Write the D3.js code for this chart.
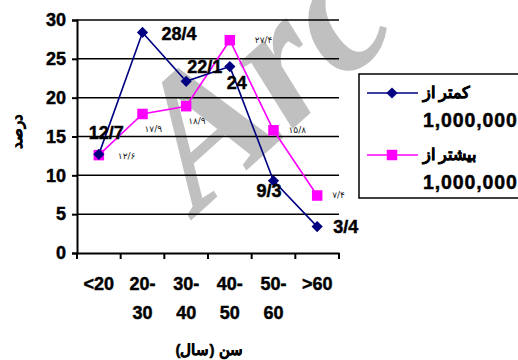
<!DOCTYPE html>
<html>
<head>
<meta charset="utf-8">
<script src="https://cdn.jsdelivr.net/npm/d3@7"></script>
<style>
  html, body { margin: 0; padding: 0; background: #fff; }
  svg { display: block; font-family: "Liberation Sans", Arial, sans-serif; }
  .heavy { font-weight: bold; stroke: #000; stroke-width: 0.45px; paint-order: fill; }
</style>
</head>
<body>
<svg id="chart" width="518" height="360"></svg>
<script>
// Age groups (two-line labels)
const categories = ["<20", "20-30", "30-40", "40-50", "50-60", ">60"];
const categoryLines = [["<20"], ["20-", "30"], ["30-", "40"], ["40-", "50"], ["50-", "60"], [">60"]];

// Percent per age group
const lessThanMillion = [12.7, 28.4, 22.1, 24, 9.3, 3.4];
const moreThanMillion = [12.6, 17.9, 18.9, 27.4, 15.8, 7.4];

// Value labels as printed
const lessLabels = ["12/7", "28/4", "22/1", "24", "9/3", "3/4"];
const moreLabels = ["۱۲/۶", "۱۷/۹", "۱۸/۹", "۲۷/۴", "۱۵/۸", "۷/۴"];

const yTicks = [0, 5, 10, 15, 20, 25, 30];
const seriesNames = ["کمتر از", "بیشتر از"];
const seriesSub = "1,000,000";
const xTitle = "سن (سال)";
const yTitle = "درصد";

// Label placement relative to each point
const lessOffsets = [[-10, -15], [19, 8], [1, -8], [-3, 22], [-17, 16], [16, 6]];
const moreOffsets = [[19, 4], [2, 18], [2, 18], [25, 3], [15, 3], [15, 2]];

const svg = d3.select("#chart");
const plot = { left: 77, right: 339, top: 20, bottom: 253 };

const x = d3.scaleBand().domain(categories).range([plot.left, plot.right]);
const y = d3.scaleLinear().domain([0, 30]).range([plot.bottom, plot.top]);
const cx = c => x(c) + x.bandwidth() / 2;

// Background watermark
svg.append("text")
  .attr("transform", "translate(198,214) rotate(-42)")
  .attr("font-family", "'Liberation Serif', 'Times New Roman', serif")
  .attr("font-style", "italic")
  .attr("font-weight", "bold")
  .attr("font-size", 185)
  .attr("fill", "#c0c0c0")
  .text("Arc");

// Gridlines
svg.append("g")
  .selectAll("line")
  .data(yTicks.filter(t => t > 0))
  .join("line")
  .attr("x1", plot.left).attr("x2", plot.right)
  .attr("y1", d => y(d)).attr("y2", d => y(d))
  .attr("stroke", "#000").attr("stroke-width", 1.5);

// Y axis
const yAxis = svg.append("g")
  .attr("transform", `translate(${plot.left},0)`)
  .call(d3.axisLeft(y).tickValues(yTicks).tickSize(5).tickPadding(6));
yAxis.select(".domain").attr("stroke", "#000").attr("stroke-width", 2);
yAxis.selectAll(".tick line").attr("stroke", "#000").attr("stroke-width", 2);
yAxis.selectAll(".tick text")
  .attr("class", "heavy")
  .attr("font-size", 18).attr("fill", "#000")
  .attr("font-family", "'Liberation Sans', Arial, sans-serif");

// X axis with ticks at category boundaries
const xAxis = svg.append("g")
  .attr("transform", `translate(0,${plot.bottom})`)
  .call(d3.axisBottom(x).tickSize(0).tickFormat(""));
xAxis.select(".domain").attr("stroke", "#000").attr("stroke-width", 2);
xAxis.selectAll(".tick").remove();
const bounds = categories.map(c => x(c)).concat([x(categories[categories.length - 1]) + x.bandwidth()]);
xAxis.selectAll("line.bound")
  .data(bounds)
  .join("line")
  .attr("class", "bound")
  .attr("x1", d => d).attr("x2", d => d)
  .attr("y1", 0).attr("y2", 6)
  .attr("stroke", "#000").attr("stroke-width", 2);

// Category labels
const catG = svg.append("g");
categories.forEach((c, i) => {
  const t = catG.append("text")
    .attr("class", "heavy")
    .attr("x", cx(c)).attr("y", 290)
    .attr("text-anchor", "middle")
    .attr("font-size", 18);
  categoryLines[i].forEach((ln, j) => {
    t.append("tspan").attr("x", cx(c)).attr("dy", j === 0 ? 0 : 29).text(ln);
  });
});

// Axis titles
svg.append("text")
  .attr("class", "heavy")
  .attr("x", 209).attr("y", 355)
  .attr("text-anchor", "middle")
  .attr("font-size", 15)
  .text(xTitle);
svg.append("text")
  .attr("class", "heavy")
  .attr("transform", "translate(22,131) rotate(-90)")
  .attr("text-anchor", "middle")
  .attr("font-size", 15)
  .text(yTitle);

const line = d3.line().x((d, i) => cx(categories[i])).y(d => y(d));
const diamond = d3.symbol().type(d3.symbolDiamond2).size(80);
const square = d3.symbol().type(d3.symbolSquare).size(110);

// Series: more than 1,000,000 (magenta squares)
svg.append("path").datum(moreThanMillion)
  .attr("d", line).attr("fill", "none")
  .attr("stroke", "#ff00ff").attr("stroke-width", 1.6);
svg.append("g").selectAll("path")
  .data(moreThanMillion)
  .join("path")
  .attr("transform", (d, i) => `translate(${cx(categories[i])},${y(d)})`)
  .attr("d", square).attr("fill", "#ff00ff");

// Series: less than 1,000,000 (navy diamonds)
svg.append("path").datum(lessThanMillion)
  .attr("d", line).attr("fill", "none")
  .attr("stroke", "#000080").attr("stroke-width", 1.6);
svg.append("g").selectAll("path")
  .data(lessThanMillion)
  .join("path")
  .attr("transform", (d, i) => `translate(${cx(categories[i])},${y(d)})`)
  .attr("d", diamond).attr("fill", "#000080");

// Value labels
svg.append("g").selectAll("text")
  .data(moreThanMillion)
  .join("text")
  .attr("x", (d, i) => cx(categories[i]) + moreOffsets[i][0])
  .attr("y", (d, i) => y(d) + moreOffsets[i][1])
  .attr("font-size", 9).attr("fill", "#222")
  .attr("font-family", "'DejaVu Sans', sans-serif")
  .text((d, i) => moreLabels[i]);
svg.append("g").selectAll("text")
  .data(lessThanMillion)
  .join("text")
  .attr("class", "heavy")
  .attr("x", (d, i) => cx(categories[i]) + lessOffsets[i][0])
  .attr("y", (d, i) => y(d) + lessOffsets[i][1])
  .attr("font-size", 18).attr("fill", "#000")
  .text((d, i) => lessLabels[i]);

// Legend (box runs past the right edge)
const lg = svg.append("g");
lg.append("rect")
  .attr("x", 359).attr("y", 74).attr("width", 175).attr("height", 124)
  .attr("fill", "#fff").attr("stroke", "#000").attr("stroke-width", 1.5);
const legendItems = [
  { name: seriesNames[0], color: "#000080", sym: diamond, y: 93 },
  { name: seriesNames[1], color: "#ff00ff", sym: square, y: 155 }
];
legendItems.forEach(it => {
  lg.append("line")
    .attr("x1", 367).attr("x2", 418).attr("y1", it.y).attr("y2", it.y)
    .attr("stroke", it.color).attr("stroke-width", 1.6);
  lg.append("path")
    .attr("transform", `translate(392,${it.y})`)
    .attr("d", it.sym).attr("fill", it.color);
  lg.append("text")
    .attr("class", "heavy")
    .attr("x", 423).attr("y", it.y + 5)
    .attr("font-size", 16)
    .text(it.name);
  lg.append("text")
    .attr("class", "heavy")
    .attr("x", 423).attr("y", it.y + 34)
    .attr("font-size", 19.5)
    .attr("letter-spacing", 0.9)
    .text(seriesSub);
});
</script>
</body>
</html>
